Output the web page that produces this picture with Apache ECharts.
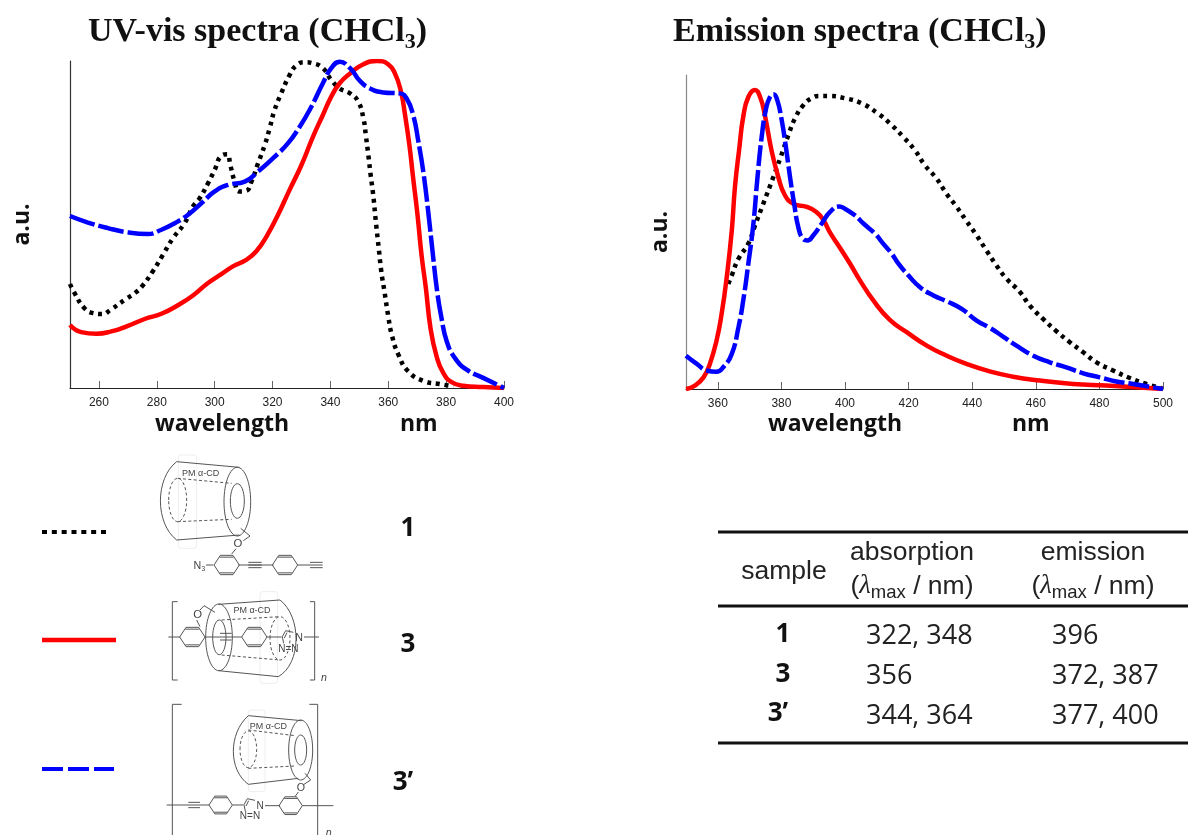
<!DOCTYPE html>
<html><head><meta charset="utf-8">
<style>html,body{margin:0;padding:0;background:#fff}#c{width:1188px;height:835px}</style>
<script src="https://cdn.jsdelivr.net/npm/echarts@6/dist/echarts.min.js"></script>
</head><body><div id="c"></div>
<script>
// UV-vis data: wavelength (nm) / intensity (a.u., 0-100)
var uvNm1=[250,251.4,255,258,261.2,264,269.5,272.4,274.9,278.7,282.1,285.6,289.6,292.5,294.8,297.7,300,302.3,304.3,305.4,306.9,308.4,310.9,312.7,315,317.3,319,320.7,323,325.9,328.2,331.1,334,337.4,340.3,343.2,346.8,349.6,351.4,352.3,353.1,353.9,354.8,355.7,356.7,357.6,358.6,360,361.2,363.5,366.9,372.1,377.9,382.5];
var uvVal1=[31.8,29.3,24.4,22.9,22.6,23.9,27.3,29,31.1,35.8,40.7,45.8,50.4,55.5,58,62.6,66.7,71,71.5,68.2,63.1,60.1,60.3,63.1,68.7,74.3,79.4,85,90.1,95.7,98.6,99.6,99.3,97.8,94.2,91.6,90.1,87.6,82.5,76.9,71.3,65.2,59,50.9,42.8,35.6,30,21.9,16.3,10.2,5.1,2.2,1.2,0.5];
var uvNm3=[250,253.9,259.1,264.3,270,275.8,281.6,287.3,292.5,297.7,302.3,306.3,310.9,314.4,317.9,321.9,325.9,330,334,337.4,340.3,343.2,346.8,351.4,356,360,362.3,364.4,365.8,367.3,368.6,370.1,371.5,373,374.6,376.7,379,381.9,385.9,392.8,400];
var uvVal3=[19.3,17.1,16.6,17.3,19,21.1,22.7,25.3,28.3,32.1,34.8,37.2,39.2,41.8,46.3,53,60.6,68.2,76.9,83.5,89.1,93.2,96.2,99,100,99,96.2,90.6,83.5,74.3,64.2,53,40.7,30.5,18.3,9.7,4.6,1.8,0.7,0.3,0];
var uvNm3p=[250,256.2,263.1,270,276.9,281.6,286.2,290.8,295.4,300,304.6,310.4,315,320.2,325.3,329.4,333.4,337.4,340.3,343.2,346.8,350.2,353.7,358.3,364,366.3,368.6,370.4,372.1,373.8,375.3,376.9,378.4,380.2,383,387.1,392.8,400];
var uvVal3p=[52.6,50.6,48.9,47.6,47.1,48.4,50.4,53,56.5,60.1,62.1,63.1,66.2,70.3,74.8,79.9,86,93.2,97.8,99.8,97.8,93.9,91.6,90.4,90.1,88.6,83.5,75.4,66.2,54,41.8,29.5,21.4,14.3,9.2,5.6,3.1,0];
// Emission data
var emNm1=[363.3,364.4,366.5,369.6,371.7,374.3,377.5,379.6,382.2,384.3,386.9,389.5,392.1,394.8,400,405.2,410,414.1,418.3,422,425.1,428.8,431.9,435.1,438.2,441.4,444.5,447.6,450.8,455,458.1,462.3,466.5,470.7,474.9,479.1,484.3,489.6,494.8,499.8];
var emVal1=[33.5,36.2,41.5,46.3,52.1,59,67.6,73.4,80.9,86.2,90.4,92.6,93.3,93.3,92.6,91,88,84.6,80.3,76,71.3,67,62.2,58,53.5,48.9,44.1,39.4,35.1,30.9,26.6,22.3,18.4,14.9,11.7,8.5,5.9,3.5,1.6,0.2];
var emNm3=[350,352.8,355.5,357.5,359.6,361.2,362.8,364.4,365.4,366.8,368,369.6,371.7,373.3,374.8,376.9,379,381.1,383.8,388,391,393.2,395.3,398.4,401.6,404.7,408.9,414.1,419.4,425.7,432,438.2,445.5,452.9,461.3,471.7,482.2,492.7,500];
var emVal3=[0,1.1,3.7,8,15.4,23.9,35.6,50.5,64.4,77,86.7,93,95.2,93,87.2,76,67.6,61.7,59,58,56.4,53.8,49.8,45,39.9,34.6,28.2,22,18.1,13.8,10.6,8,5.6,3.9,2.7,1.6,1.1,0.5,0];
var emNm3p=[350,353.4,356.5,359.6,361.7,364.4,366.5,368,369.6,371.2,372.4,373.8,375.2,376.4,377.5,378.7,380.1,381.4,382.7,384,385.3,386.7,388.2,390,392.7,395.3,398.2,400,403.1,405.8,409.4,412,414.7,416.8,419.9,423.6,427.8,432.5,436.7,441.4,445.5,449.7,453.9,459.2,464.4,469.6,474.9,480.1,485.3,490.6,495.8,500];
var emVal3p=[10.6,8,5.9,5.5,6.9,11.2,19.7,28.2,39.9,52.7,66.5,80.3,89.4,93,93.9,92,85.6,77.1,67.6,59,51.6,47.9,47.3,48.9,52.7,56.4,58.1,57.4,55.3,52.7,49.5,46.3,43.1,39.9,36.2,32.4,29.8,27.7,25.5,21.8,19.5,16.7,13.8,10.6,8.5,6.9,5,3.7,2.4,1.6,0.7,0];
// Tick labels
var uvTicks=[260,280,300,320,340,360,380,400];
var emTicks=[360,380,400,420,440,460,480,500];
// Table
var tblSample=['1','3','3’'];
var tblAbs=['322, 348','356','344, 364'];
var tblEm=['396','372, 387','377, 400'];
var legendLabels=['1','3','3’'];

var BLACK='#000',RED='#ff0000',BLUE='#0000ff';
function zip(a,b){return a.map(function(v,i){return [v,b[i]];});}
function line(name,x,y,i,color,width,dash){
  return {name:name,type:'line',xAxisIndex:i,yAxisIndex:i,data:zip(x,y),smooth:0.5,showSymbol:false,silent:true,
    lineStyle:{color:color,width:width,type:dash,cap:'butt'}};
}
function xAx(i,min,max,ticks){
  return {type:'value',gridIndex:i,min:min,max:max,splitLine:{show:false},
    axisLine:{show:true,onZero:false,lineStyle:{color:'#222',width:1.2}},
    axisTick:{show:true,inside:true,length:7,customValues:ticks,lineStyle:{color:'#666',width:1}},
    axisLabel:{show:true,customValues:ticks,margin:9,color:'#222',fontSize:12,fontFamily:'Liberation Sans'}};
}
function yAx(i,gap,col){
  return {type:'value',gridIndex:i,min:0,max:100,splitLine:{show:false},axisTick:{show:false},axisLabel:{show:false},
    axisLine:{show:true,onZero:false,lineStyle:{color:col,width:1.2}},
    name:'a.u.',nameLocation:'middle',nameGap:gap,nameRotate:90,
    nameTextStyle:{fontFamily:'Open Sans',fontWeight:'bold',fontSize:23,color:'#111'}};
}
function titleOpt(x,txt){
  return {left:x,top:15,text:'{a|'+txt+' (CHCl}{s|3}{a|)}',padding:0,
    textStyle:{rich:{a:{fontFamily:'Liberation Serif',fontWeight:'bold',fontSize:34,lineHeight:38,color:'#111',verticalAlign:'top'},
      s:{fontFamily:'Liberation Serif',fontWeight:'bold',fontSize:22,lineHeight:54,color:'#111',verticalAlign:'middle'}}}};
}
function T(x,y,text,size,opt){
  opt=opt||{};
  return {type:'text',x:x,y:y,silent:true,style:{text:text,fontSize:size,fontFamily:opt.font||'Open Sans',fontWeight:opt.weight||'normal',
    fill:opt.fill||'#111',align:opt.align||'left',verticalAlign:'middle',fontStyle:opt.italic?'italic':'normal'}};
}
function L(x1,y1,x2,y2,w,c,dash){
  return {type:'line',silent:true,shape:{x1:x1,y1:y1,x2:x2,y2:y2},style:{stroke:c||'#000',lineWidth:w||1,lineDash:dash||null}};
}
// --- molecular sketches, drawn in 3x coordinates inside a scaled group ---
var INK='#555';
function sl(x1,y1,x2,y2,d){return L(x1,y1,x2,y2,3,INK,d?[9,7]:null);}
function ell(cx,cy,rx,ry,d){return {type:'ellipse',silent:true,shape:{cx:cx,cy:cy,rx:rx,ry:ry},style:{fill:'none',stroke:INK,lineWidth:3,lineDash:d?[9,7]:null}};}
function bz(x1,y1,a,b,c,d,x2,y2){return {type:'bezierCurve',silent:true,shape:{x1:x1,y1:y1,cpx1:a,cpy1:b,cpx2:c,cpy2:d,x2:x2,y2:y2},style:{fill:'none',stroke:INK,lineWidth:3}};}
function hex(cx,cy,r){
  var p=[],i;for(i=0;i<6;i++){var a=Math.PI/3*i;p.push([cx+r*Math.cos(a),cy+r*Math.sin(a)*0.88]);}
  var out=[{type:'polygon',silent:true,shape:{points:p},style:{fill:'none',stroke:INK,lineWidth:3}}];
  out.push(sl(cx-r*0.55,cy-r*0.62,cx+r*0.55,cy-r*0.62));
  out.push(sl(cx-r*0.55,cy+r*0.62,cx+r*0.55,cy+r*0.62));
  return out;
}
function ghost(x,y,w,h){return {type:'rect',silent:true,shape:{x:x,y:y,width:w,height:h,r:8},style:{fill:'none',stroke:'#eeeeee',lineWidth:3}};}
function mt(x,y,t,s,it){return {type:'text',silent:true,x:x,y:y,style:{text:t,fontSize:s||27,fontFamily:'Liberation Sans',fontStyle:it?'italic':'normal',fill:'#444',verticalAlign:'middle',align:'center'}};}
function triple(x1,x2,y){return [sl(x1,y-8,x2,y-8),sl(x1,y,x2,y),sl(x1,y+8,x2,y+8)];}
function tz(cx,cy){return [sl(cx-18,cy-2,cx-8,cy-20),sl(cx-8,cy-20,cx+15,cy-15),sl(cx-12,cy+2,cx-4,cy-14),sl(cx-18,cy-2,cx-14,cy+18)];}

var mol=[].concat(
  // 1
  [ghost(535,15,55,280),
   bz(530,35,465,85,465,220,530,270),sl(530,35,718,52),sl(530,270,718,255),ell(712,155,40,103),ell(712,153,21,52),
   ell(533,150,27,65,true),sl(533,85,695,100,true),sl(533,215,695,208,true),mt(602,72,'PM α-CD'),
   sl(722,235,750,258),sl(750,258,730,272),mt(714,282,'O',34),sl(708,296,695,312),mt(592,347,'N',32),mt(610,358,'3',20),sl(618,345,640,345),sl(715,345,820,345)],
  hex(680,345,38),triple(745,785,345),hex(855,345,38),[sl(893,345,930,345)],triple(930,968,345),
  // 3
  [ghost(780,425,53,275),
   sl(517,455,517,690),sl(517,455,533,455),sl(517,690,533,690),sl(944,455,944,690),sl(944,455,930,455),sl(944,690,930,690),mt(972,684,'n',32,true),
   sl(505,561,540,561),sl(615,561,725,561),sl(800,561,845,561),sl(912,561,957,561),
   ell(657,562,40,100),ell(658,562,20,52),sl(655,463,840,450),sl(655,662,835,680),bz(840,450,905,500,905,640,835,680),
   ell(840,565,30,65,true),sl(665,510,840,500,true),sl(665,615,840,630,true),mt(756,482,'PM α-CD'),
   mt(593,495,'O',34),sl(600,480,612,467),sl(612,467,645,487),sl(590,510,600,530),mt(897,563,'N',32),mt(865,597,'N=N',30)],
  hex(577,561,38),hex(763,561,38),[sl(660,550,695,550),sl(660,570,695,570)],tz(865,562),
  // 3'
  [ghost(745,780,50,245),
   sl(517,763,517,1160),sl(517,763,545,763),sl(953,763,953,1160),sl(953,763,928,763),mt(986,1148,'n',32,true),
   sl(500,1065,627,1065),sl(697,1065,730,1065),sl(795,1067,840,1067),sl(907,1067,1000,1067),
   sl(745,797,905,812),sl(745,1003,895,985),bz(745,797,685,850,685,960,745,1003),ell(902,900,36,90),ell(902,900,18,45),
   ell(745,898,25,55,true),sl(745,840,885,857,true),sl(745,955,885,948,true),mt(805,830,'PM α-CD'),
   sl(915,970,932,990),sl(932,990,912,1003),mt(903,1014,'O',32),sl(895,1026,885,1040),mt(780,1070,'N',30),mt(750,1098,'N=N',30),
   sl(565,1057,600,1057),sl(565,1073,600,1073)],
  hex(662,1065,35),hex(872,1067,35),tz(750,1066)
);

var gfx=[
  T(155,424,'wavelength',23,{weight:'bold'}),T(400,424,'nm',23,{weight:'bold'}),
  T(768,424,'wavelength',23,{weight:'bold'}),T(1012,424,'nm',23,{weight:'bold'}),
  // legend swatches
  L(42,532,106,532,4,BLACK,[5,4.83]),L(42,640,116,640,4.5,RED),L(42,769,114,769,4,BLUE,[21,5]),
  T(408,529,legendLabels[0],26,{weight:'bold',align:'center'}),
  T(408,645,legendLabels[1],26,{weight:'bold',align:'center'}),
  T(403,783,legendLabels[2],26,{weight:'bold',align:'center'}),
  {type:'group',x:0,y:450,scaleX:1/3,scaleY:1/3,silent:true,children:mol},
  // table
  L(718,532,1188,532,3.2,'#111'),L(718,606,1188,606,3.2,'#111'),L(718,743,1188,743,3.2,'#111'),
  T(784,572,'sample',26.5,{font:'Liberation Sans',align:'center',fill:'#222'}),
  T(912,553,'absorption',26.5,{font:'Liberation Sans',align:'center',fill:'#222'}),
  T(1093,553,'emission',26.5,{font:'Liberation Sans',align:'center',fill:'#222'})
];
function lam(x,y){
  return {type:'text',x:x,y:y,silent:true,style:{text:'{t|(}{l|λ}{m|max}{t| / nm)}',align:'center',verticalAlign:'middle',
    rich:{t:{fontSize:26.5,fontFamily:'Liberation Sans',fill:'#222',verticalAlign:'top',lineHeight:30},
      l:{fontSize:26.5,fontFamily:'Liberation Serif',fontStyle:'italic',fill:'#222',verticalAlign:'top',lineHeight:30},
      m:{fontSize:18.5,fontFamily:'Liberation Sans',fill:'#222',verticalAlign:'middle',lineHeight:40}}}};
}
gfx.push(lam(912,593),lam(1093,593));
var rowY=[636,676,716],sampX=[783,783,778],sampY=[635,675,714];
rowY.forEach(function(y,i){
  gfx.push(T(sampX[i],sampY[i],tblSample[i],26,{weight:'bold',align:'center'}));
  gfx.push(T(866,y,tblAbs[i],27,{fill:'#222'}));
  gfx.push(T(1052,y,tblEm[i],27,{fill:'#222'}));
});

var chart=echarts.init(document.getElementById('c'),null,{renderer:'canvas'});
chart.setOption({
  animation:false,backgroundColor:'#fff',
  title:[titleOpt(88,'UV-vis spectra'),titleOpt(673,'Emission spectra')],
  grid:[{left:70,right:684,top:61,bottom:447},{left:686,right:25,top:75,bottom:446}],
  xAxis:[xAx(0,250,400,uvTicks),xAx(1,350,500,emTicks)],
  yAxis:[yAx(0,36,'#333'),yAx(1,14,'#888')],
  series:[
    line('1',uvNm1,uvVal1,0,BLACK,4.5,[4,4.7]),
    line('3',uvNm3,uvVal3,0,RED,4.5,'solid'),
    line('3p',uvNm3p,uvVal3p,0,BLUE,4.5,[26,4]),
    line('1',emNm1,emVal1,1,BLACK,4.5,[4,4.7]),
    line('3',emNm3,emVal3,1,RED,4.5,'solid'),
    line('3p',emNm3p,emVal3p,1,BLUE,4.5,[21,4])
  ],
  graphic:gfx
});
</script></body></html>
